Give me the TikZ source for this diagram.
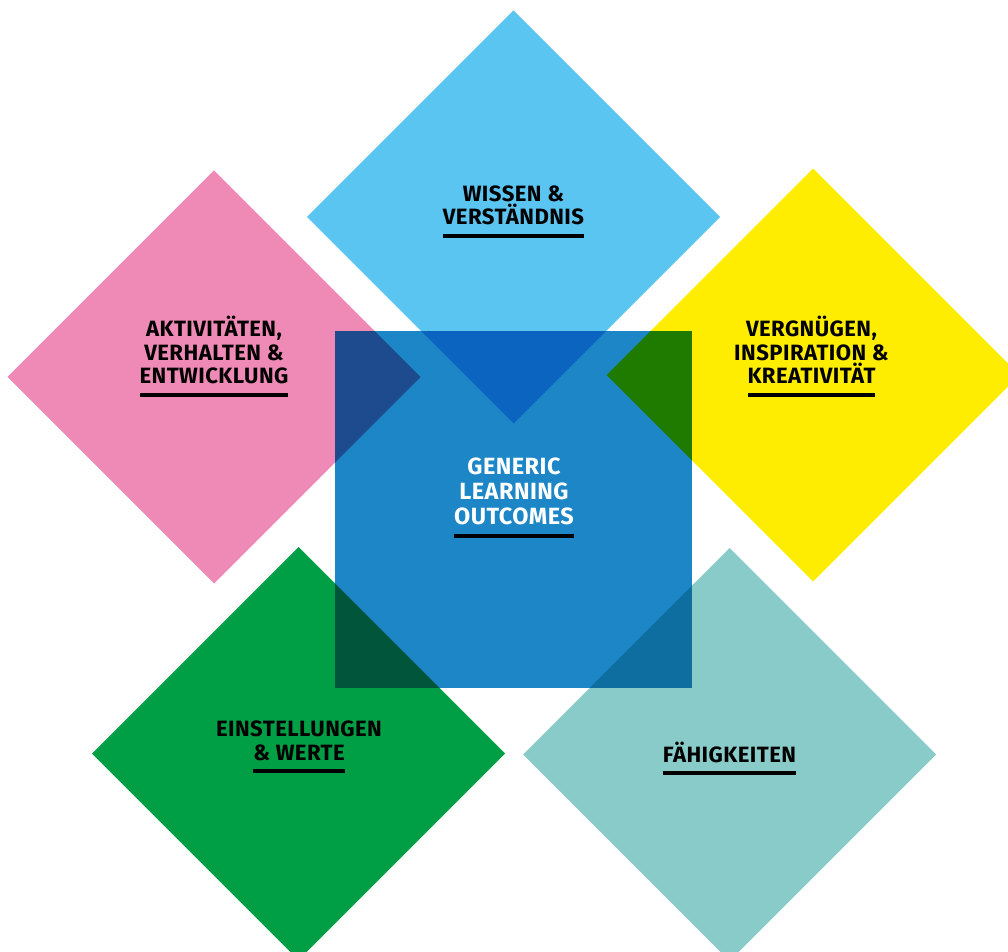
\documentclass[tikz,border=0pt]{standalone}
\usepackage{fontspec}
\setmainfont{Fira Sans}[LetterSpace=2]
\newsavebox\ulsave
\newcommand\ulbox[1]{\sbox\ulsave{#1}\dp\ulsave=0pt\vtop{\hbox{\usebox\ulsave}\kern6.9pt{\color{black}\hrule height 3pt width\wd\ulsave}}}
\definecolor{cblue}{HTML}{5BC5F2}
\definecolor{cpink}{HTML}{EF8AB6}
\definecolor{cyellow}{HTML}{FFED00}
\definecolor{cgreen}{HTML}{009E45}
\definecolor{cteal}{HTML}{88CBC9}
\definecolor{csquare}{HTML}{1C86C7}
\definecolor{obl}{HTML}{0B65C0}
\definecolor{opk}{HTML}{1E4A8E}
\definecolor{oye}{HTML}{1E7B00}
\definecolor{ogr}{HTML}{01553A}
\definecolor{ote}{HTML}{0E6EA0}
\tikzset{
  lbl/.style={font=\bfseries\fontsize{16.6}{17.7}\selectfont, align=center, inner sep=0pt, anchor=base, text=black},
}
\newcommand\diam[2]{(#1-206.5,#2) -- (#1,#2-206.5) -- (#1+206.5,#2) -- (#1,#2+206.5) -- cycle}
\begin{document}
\begin{tikzpicture}[x=0.75pt,y=-0.75pt]
\useasboundingbox (0,0) rectangle (1008,952);
\clip (0,0) rectangle (1008,952);
\fill[cblue] \diam{513.5}{217};
\fill[cpink] \diam{214}{377};
\fill[cyellow] \diam{813}{375};
\fill[cgreen] \diam{298.5}{753.5};
\fill[cteal] \diam{729.5}{754.5};
\fill[csquare] (335,331) rectangle (692,688);
\begin{scope}\clip \diam{513.5}{217}; \fill[obl] (335,331) rectangle (692,688);\end{scope}
\begin{scope}\clip \diam{214}{377}; \fill[opk] (335,331) rectangle (692,688);\end{scope}
\begin{scope}\clip \diam{813}{375}; \fill[oye] (335,331) rectangle (692,688);\end{scope}
\begin{scope}\clip \diam{298.5}{753.5}; \fill[ogr] (335,331) rectangle (692,688);\end{scope}
\begin{scope}\clip \diam{729.5}{754.5}; \fill[ote] (335,331) rectangle (692,688);\end{scope}
\node[lbl] (wissen) at (513.5,225) {WISSEN \&\\\ulbox{VERSTÄNDNIS}};
\node[lbl] (aktiv) at (214,384) {AKTIVITÄTEN,\\VERHALTEN \&\\\ulbox{ENTWICKLUNG}};
\node[lbl] (vergn) at (811.5,384) {VERGNÜGEN,\\INSPIRATION \&\\\ulbox{KREATIVITÄT}};
\node[lbl, text=white, font=\bfseries\fontsize{17.6}{18.8}\selectfont] (glo) at (514,525) {GENERIC\\LEARNING\\\ulbox{OUTCOMES}};
\node[lbl] (einst) at (299,760) {EINSTELLUNGEN\\\ulbox{\& WERTE}};
\node[lbl] (faehig) at (729.5,762) {\ulbox{FÄHIGKEITEN}};
\end{tikzpicture}
\end{document}
